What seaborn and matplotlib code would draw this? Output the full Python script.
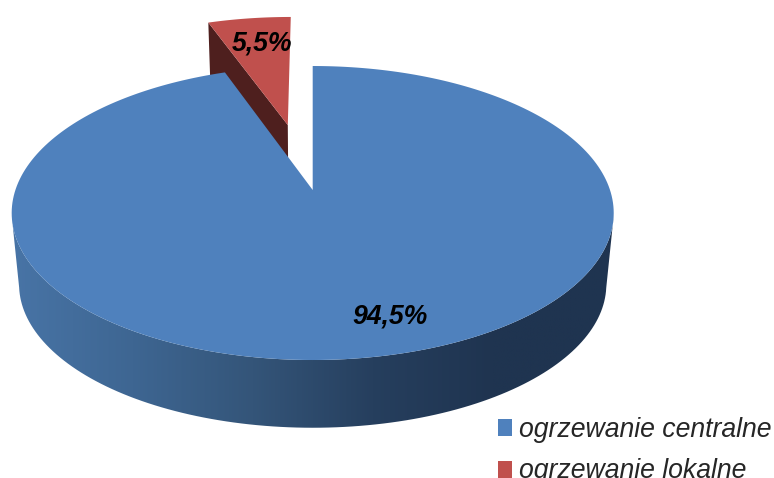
import numpy as np
import matplotlib
matplotlib.use('Agg')
import matplotlib.pyplot as plt
import seaborn as sns
from matplotlib.patches import Patch, Polygon
from matplotlib.transforms import Affine2D

categories = ['ogrzewanie centralne', 'ogrzewanie lokalne']
shares = [94.5, 5.5]
explode = [0, 0.495]

# kolory
BLUE = '#4F81BD'
RED = '#C0504D'
RED_WALL = '#4E1F1E'
SIDE_COLORS = ['#4874A6', '#3E6692', '#345579', '#263F5E', '#1F3450', '#1F3450']

# rzut perspektywiczny: cx, cy, a, b, k (gorna i dolna plaszczyzna kola)
TOP = (312.7, 190, 297.3, 143.4, 0.1565)
BOTTOM = (312.7, 262, 290.0, 139.8, 0.1565)
# czerwony wycinek lekko w lewo
RED_TOP = (311.3, 190, 297.3, 143.4, 0.1565)
RED_BOTTOM = (311.3, 262, 290.0, 139.8, 0.1565)


def project(pts, plane):
    cx, cy, a, b, k = plane
    pts = np.asarray(pts, dtype=float)
    w = 1 + k * pts[:, 1]
    return np.column_stack([cx + a * pts[:, 0] / w, cy - b * pts[:, 1] / w])


def flatten(wedge):
    return wedge.get_path().to_polygons(Affine2D().scale(1000), closed_only=False)[0] / 1000


def edge_point(wedge, angle):
    rad = np.deg2rad(angle)
    return np.array(wedge.center) + wedge.r * np.array([np.cos(rad), np.sin(rad)])


sns.set_theme(style='white')
plt.rcParams['font.family'] = ['Liberation Sans', 'DejaVu Sans']

fig = plt.figure(figsize=(7.74, 4.78), dpi=100)
ax = fig.add_axes([0, 0, 1, 1])

wedges, _ = ax.pie(shares, explode=explode, startangle=90, counterclock=False,
                   colors=[BLUE, RED])
for w in wedges:
    w.set_visible(False)
blue, red = wedges

# czerwony wycinek: sciana i wierzch
tip = edge_point(red, red.theta2)
apex = np.array(red.center)
wall = np.vstack([project([apex, tip], RED_TOP), project([tip, apex], RED_BOTTOM)])
ax.add_patch(Polygon(wall, closed=True, facecolor=RED_WALL, edgecolor='none', zorder=1))
ax.add_patch(Polygon(project(flatten(red), RED_TOP), closed=True, facecolor=RED,
                     edgecolor='none', zorder=2))

# niebieski wycinek: bok z gradientem i wierzch
outline = flatten(blue)
front = outline[outline[:, 1] < -TOP[4]]
front = front[np.argsort(front[:, 0])]
side = np.vstack([project(front, TOP), project(front[::-1], BOTTOM)])
side_patch = Polygon(side, closed=True, facecolor='none', edgecolor='none')
ax.add_patch(side_patch)
gradient = np.array(sns.blend_palette(SIDE_COLORS, n_colors=256))[np.newaxis, :, :]
img = ax.imshow(gradient, extent=(side[:, 0].min(), side[:, 0].max(), 440, 200),
                aspect='auto', zorder=3)
img.set_clip_path(side_patch)
ax.add_patch(Polygon(project(outline, TOP), closed=True, facecolor=BLUE,
                     edgecolor='none', zorder=4))

ax.set_aspect('auto')
ax.set_xlim(0, 774)
ax.set_ylim(478, 0)
ax.axis('off')

label_style = dict(fontsize=19.2, fontweight='bold', fontstyle='italic', color='black',
                   ha='center', va='center', zorder=6)
ax.text(390, 316.5, f'{shares[0]:.1f}%'.replace('.', ','), **label_style)
ax.text(262, 43, f'{shares[1]:.1f}%'.replace('.', ','), **label_style)

handles = [Patch(facecolor=BLUE, edgecolor='none'), Patch(facecolor=RED, edgecolor='none')]
ax.legend(handles, categories, loc='upper left', bbox_to_anchor=(498, 417),
          bbox_transform=ax.transData, frameon=False, borderpad=0, borderaxespad=0,
          handlelength=0.53, handleheight=0.6, handletextpad=0.26, labelspacing=0.58,
          prop={'size': 19.2, 'style': 'italic'})

fig.savefig('out.png', dpi=100)
